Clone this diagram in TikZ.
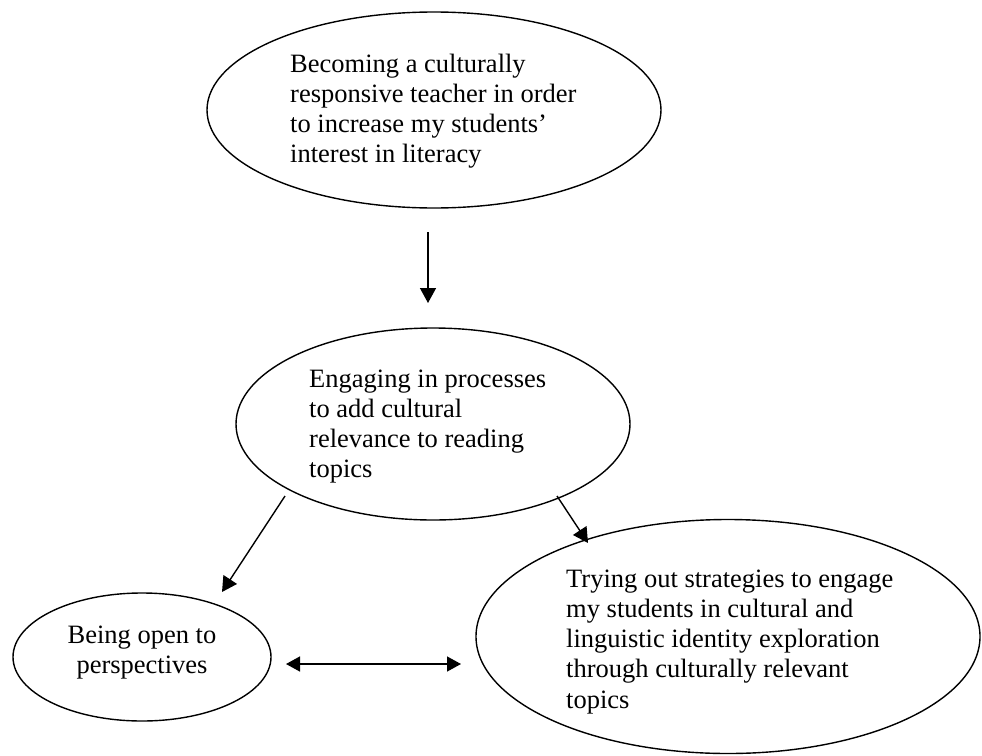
\documentclass[tikz,border=0pt]{standalone}
\usepackage{fontspec}
\setmainfont{Liberation Serif}
\usetikzlibrary{shapes.geometric,arrows.meta}
\begin{document}
\begin{tikzpicture}[x=1pt,y=-1pt,
  bubble/.style={draw, ellipse, line width=1.4pt, inner sep=0pt},
  txt/.style={inner sep=0pt, font={\fontsize{26.5}{30.3}\selectfont}},
  link/.style={line width=1.4pt, -{Triangle[length=15pt,width=16pt]}},
  twolink/.style={line width=1.4pt,
    {Triangle[length=14pt,width=15pt]}-{Triangle[length=14pt,width=15pt]}}]
\useasboundingbox (0,0) rectangle (982,755);

% ellipses
\node[bubble, minimum width=454pt, minimum height=196pt] (goal) at (434,110) {};
\node[bubble, minimum width=394pt, minimum height=192pt] (process) at (433,424) {};
\node[bubble, minimum width=258pt, minimum height=128pt] (open) at (142,657) {};
\node[bubble, minimum width=504pt, minimum height=234pt] (try) at (728,636.5) {};

% texts
\node[txt, anchor=base west] (goaltext) at (290,72)
  {\parbox[t]{400pt}{\raggedright Becoming a culturally\\ responsive teacher in order\\ to increase my students’\\ interest in literacy}};
\node[txt, anchor=base west] (processtext) at (309,387)
  {\parbox[t]{400pt}{\raggedright Engaging in processes\\ to add cultural\\ relevance to reading\\ topics}};
\node[txt, anchor=base] (opentext) at (142,643)
  {\parbox[t]{240pt}{\centering Being open to\\ perspectives}};
\node[txt, anchor=base west] (trytext) at (566,587)
  {\parbox[t]{400pt}{\raggedright Trying out strategies to engage\\ my students in cultural and\\ linguistic identity exploration\\ through culturally relevant\\ topics}};

% connector ends
\coordinate (goalout) at (428,232);
\coordinate (processin) at (428,303);
\coordinate (leftout) at (285,496);
\coordinate (openin) at (222,592);
\coordinate (rightout) at (557,496);
\coordinate (tryin) at (588,543);
\coordinate (openside) at (286,664);
\coordinate (tryside) at (461,664);

\draw[link] (goalout) -- (processin);
\draw[link] (leftout) -- (openin);
\draw[link] (rightout) -- (tryin);
\draw[twolink] (openside) -- (tryside);
\end{tikzpicture}
\end{document}
